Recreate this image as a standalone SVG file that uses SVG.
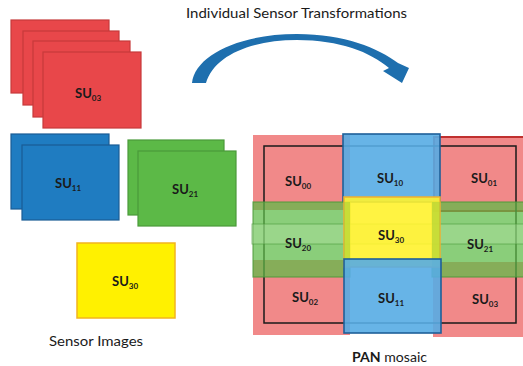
<svg xmlns="http://www.w3.org/2000/svg" width="523" height="366" viewBox="0 0 523 366">
<style>
text{font-family:Lato,"Liberation Sans",Arial,sans-serif;fill:#1a1a1a}
.lbl{font-size:13px;font-weight:bold}
.sub{font-size:8px;font-weight:bold}
.cap{font-size:12.5px}
.red{fill:#E8474A;stroke:#C63A3B;stroke-width:1.2}
.blue{fill:#1F7CC1;stroke:#1A5C95;stroke-width:1.2}
.green{fill:#5CB947;stroke:#4A9A3A;stroke-width:1.2}
.yellow{fill:#FFF100;stroke:#F2B41E;stroke-width:1.5}
.mred{fill:#EC5B5B;fill-opacity:0.72}
.mblue{fill:#56ACE4;fill-opacity:0.9;stroke:#1F5F99;stroke-width:1.6}
.mgreen{fill:#5DBB47;fill-opacity:0.72;stroke:#4B9A38;stroke-opacity:0.8;stroke-width:1.2}
</style>
<rect width="523" height="366" fill="#fff"/>

<text id="title" class="cap" x="186" y="18" textLength="221" lengthAdjust="spacingAndGlyphs">Individual Sensor Transformations</text>

<g id="connectors">
<path d="M192,83 C195,55 240,34 297,34 C345,34 378,48 398,63 L409,68 L402,83 L383,71 L389,68 C370,52 340,40 297,40 C250,40 214,56 206,83 Z" fill="#1E6FAE"/>
</g>

<g id="su03-stack">
<rect class="red" x="11" y="20" width="98" height="73"/>
<rect class="red" x="23" y="31" width="96" height="74"/>
<rect class="red" x="33" y="41" width="97" height="76"/>
<rect class="red" x="43" y="52" width="98" height="76"/>
<text class="lbl" x="75" y="98">SU<tspan class="sub" dy="3">03</tspan></text>
</g>

<g id="su11-stack">
<rect class="blue" x="11" y="134" width="98" height="75"/>
<rect class="blue" x="22" y="145" width="97" height="75"/>
<text class="lbl" x="55" y="188">SU<tspan class="sub" dy="3">11</tspan></text>
</g>

<g id="su21-stack">
<rect class="green" x="128" y="140" width="96" height="75"/>
<rect class="green" x="138" y="151" width="98" height="75"/>
<text class="lbl" x="172" y="194">SU<tspan class="sub" dy="3">21</tspan></text>
</g>

<g id="su30-image">
<rect class="yellow" x="77" y="243" width="98" height="75"/>
<text class="lbl" x="112" y="286">SU<tspan class="sub" dy="3">30</tspan></text>
</g>

<text id="sensor-images" class="cap" x="49" y="346" textLength="94" lengthAdjust="spacingAndGlyphs">Sensor Images</text>

<g id="pan-mosaic">
<rect class="mred" x="253" y="135" width="97" height="75"/>
<rect class="mred" x="434" y="137" width="92" height="74" stroke="#C0302F" stroke-width="2"/>
<rect class="mred" x="253" y="260" width="97" height="75"/>
<rect class="mred" x="433" y="262" width="92" height="75"/>
<rect x="264" y="146" width="252" height="177" fill="none" stroke="#1a1a1a" stroke-width="1.5"/>
<rect class="mblue" x="343" y="134" width="97" height="68" stroke="#2A6CA3"/>
<rect class="mgreen" x="253" y="202" width="97" height="75"/>
<rect class="mgreen" x="432" y="202" width="93" height="75"/>
<rect x="252" y="224" width="273" height="20" fill="#B8E4A8" fill-opacity="0.35" stroke="#4B9A38" stroke-opacity="0.6"/>
<rect x="344" y="197" width="96" height="70" fill="#FFF22E" fill-opacity="0.9" stroke="#F0B030" stroke-width="1.5"/>
<rect x="344" y="202" width="6" height="65" fill="#9CCB3A" fill-opacity="0.5"/>
<rect x="432" y="202" width="8" height="65" fill="#9CCB3A" fill-opacity="0.5"/>
<rect class="mblue" x="344" y="259" width="97" height="74" fill-opacity="0.75"/>
<text class="lbl" x="285" y="186">SU<tspan class="sub" dy="3">00</tspan></text>
<text class="lbl" x="377" y="183">SU<tspan class="sub" dy="3">10</tspan></text>
<text class="lbl" x="471" y="183">SU<tspan class="sub" dy="3">01</tspan></text>
<text class="lbl" x="285" y="248">SU<tspan class="sub" dy="3">20</tspan></text>
<text class="lbl" x="378" y="240">SU<tspan class="sub" dy="3">30</tspan></text>
<text class="lbl" x="467" y="249">SU<tspan class="sub" dy="3">21</tspan></text>
<text class="lbl" x="292" y="302">SU<tspan class="sub" dy="3">02</tspan></text>
<text class="lbl" x="378" y="303">SU<tspan class="sub" dy="3">11</tspan></text>
<text class="lbl" x="472" y="304">SU<tspan class="sub" dy="3">03</tspan></text>
</g>

<text id="pan-caption" class="cap" x="352" y="362" textLength="75" lengthAdjust="spacingAndGlyphs"><tspan font-weight="bold">PAN</tspan> mosaic</text>
</svg>
